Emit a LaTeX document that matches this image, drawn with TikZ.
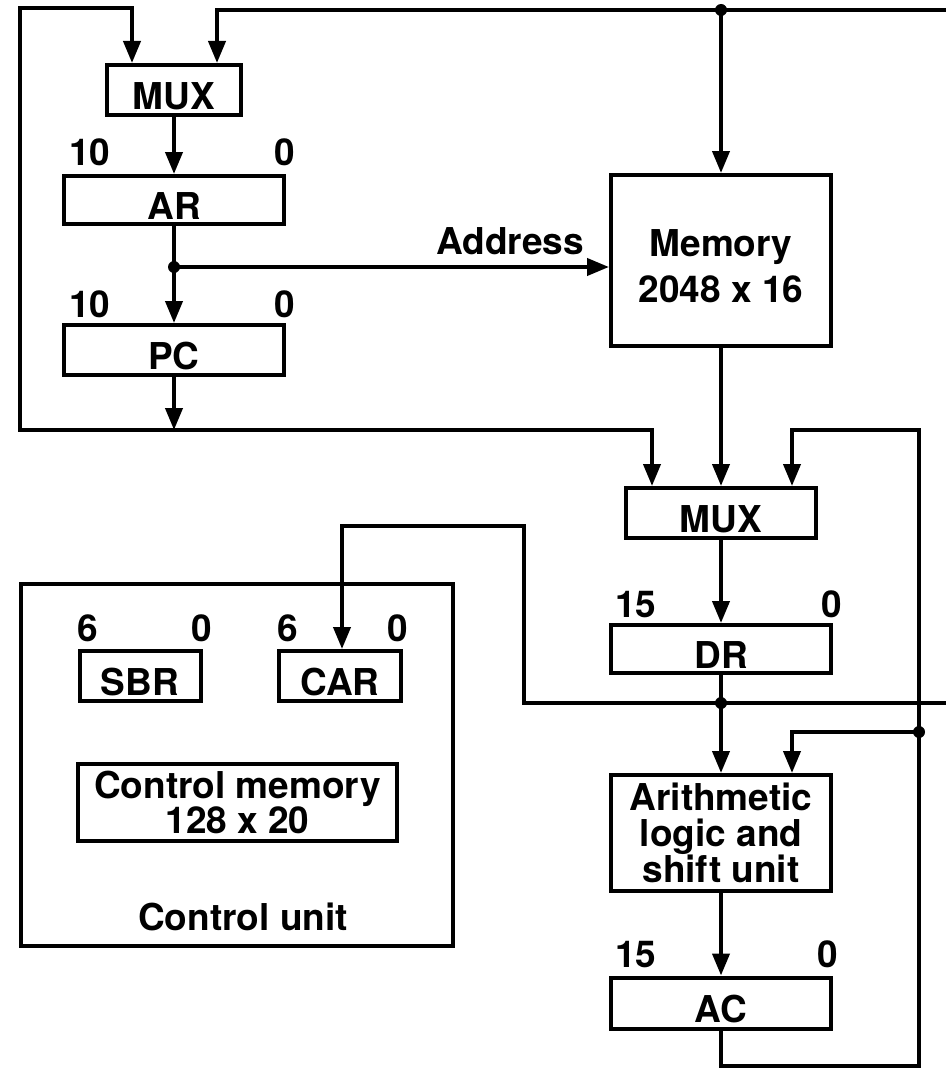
\documentclass[tikz,border=0pt]{standalone}
\usepackage{fontspec}
\setmainfont{TeX Gyre Heros}
\usetikzlibrary{arrows.meta}

\begin{document}
\begin{tikzpicture}[x=1pt,y=-1pt,line width=4pt,line cap=butt,line join=miter,
                    font=\fontsize{37pt}{44pt}\selectfont\bfseries,
                    >={Triangle[length=22pt,width=17pt]},
                    box/.style={draw,inner sep=0pt},
                    reg/.style={box,text height=39pt,text depth=0pt},
                    bit/.style={inner sep=0pt}]
  \path[use as bounding box] (0,0) rectangle (946,1070);   % bbox = 源画布 946×1070 px, 1pt = 1px, y 向下
  % ---- 方框（中心 + 线中心尺寸, px） ----
  \node[reg,minimum width=134pt,minimum height=50pt] (mux1) at (174,90)  {MUX};   % px x[104,242] y[ 63,117]
  \node[reg,minimum width=220pt,minimum height=48pt] (ar)   at (174,200) {AR};    % px x[ 62,286] y[174,226]
  \node[reg,minimum width=220pt,minimum height=50pt] (pc)   at (174,350) {PC};    % px x[ 62,286] y[323,377]
  \node[box,minimum width=220pt,minimum height=171pt] (mem) at (721,260.5) {};    % px x[609,833] y[173,348]
  \node[align=center,inner sep=0pt,yshift=-6pt,
        font=\fontsize{37pt}{46pt}\selectfont\bfseries] (memtxt) at (mem) {Memory\\2048 x 16};
  \node[reg,minimum width=190pt,minimum height=50pt] (mux2) at (721,513) {MUX};   % px x[624,818] y[486,540]
  \node[reg,minimum width=220pt,minimum height=48pt] (dr)   at (721,649) {DR};    % px x[609,833] y[623,675]
  \node[box,minimum width=220pt,minimum height=116pt,align=center,
        font=\fontsize{37pt}{35.5pt}\selectfont\bfseries] (alu) at (721,833) {Arithmetic\\logic and\\shift unit};
  \node[reg,minimum width=220pt,minimum height=51pt] (ac)   at (721,1003) {AC};   % px x[609,833] y[976,1031]
  % 控制单元
  \node[box,minimum width=432pt,minimum height=362pt] (cu) at (237,765) {};       % px x[ 19,455] y[582,948]
  \node[reg,minimum width=121pt,minimum height=50pt] (sbr) at (140,676) {SBR};    % px x[ 77,202] y[649,703]
  \node[reg,minimum width=122pt,minimum height=50pt] (car) at (340,676) {CAR};    % px x[277,403] y[649,703]
  \node[box,minimum width=319pt,minimum height=77pt,align=center,
        font=\fontsize{37pt}{26pt}\selectfont\bfseries] (cm) at (237.5,802.5) {Control memory\\128 x 20};
  \node[bit,anchor=base] (culbl) at (243,930) {Control unit};
  % ---- 位号标签（左 = 字盒左下角，右 = 字盒底边中点） ----
  \node[bit,anchor=south west] (arhi)  at ( 67,168) {10};
  \node[bit,anchor=south]      (arlo)  at (285,168) {0};
  \node[bit,anchor=south west] (pchi)  at ( 67,320) {10};
  \node[bit,anchor=south]      (pclo)  at (285,320) {0};
  \node[bit,anchor=south west] (drhi)  at (613,620) {15};
  \node[bit,anchor=south]      (drlo)  at (832,620) {0};
  \node[bit,anchor=south west] (achi)  at (613,970) {15};
  \node[bit,anchor=south]      (aclo)  at (828,970) {0};
  \node[bit,anchor=south west] (sbrhi) at ( 75,644) {6};
  \node[bit,anchor=south]      (sbrlo) at (202,644) {0};
  \node[bit,anchor=south west] (carhi) at (275,644) {6};
  \node[bit,anchor=south]      (carlo) at (398,644) {0};
  \node[bit,anchor=south east] (addr)  at (586,257) {Address};
  % ---- 折点与连接点 ----
  \coordinate (adot)  at (174,267);   % AR 输出分支点
  \coordinate (mdot)  at (721,10);    % 顶部总线分支点
  \coordinate (ddot)  at (721,703);   % DR 输出分支点
  \coordinate (fbdot) at (919,732);   % AC 回路分支点
  \coordinate (lpTL)  at (20,8);      % 左回路
  \coordinate (lpBL)  at (20,430);
  \coordinate (lpT)   at (132,8);
  \coordinate (m2L)   at (652,430);
  \coordinate (busT)  at (217,10);    % 顶部总线
  \coordinate (busTR) at (946,10);
  \coordinate (cbT)   at (342,526);   % CAR 输入总线
  \coordinate (cbTR)  at (524,526);
  \coordinate (cbB)   at (524,703);
  \coordinate (cbR)   at (946,703);
  \coordinate (fbBR)  at (919,1066);  % AC 回路
  \coordinate (fbTR)  at (919,430);
  \coordinate (m2R)   at (792,430);
  % ---- 连线 ----
  \draw[->] (mux1) -- (ar);
  \draw (ar.south) -- (adot);
  \draw[->] (adot) -- (pc.north);
  \draw[->] (adot) -- (adot -| mem.west);
  \draw[->] (pc.south) -- (pc.south |- lpBL);
  \draw[<->] (lpT |- mux1.north) -- (lpT) -- (lpTL) -- (lpBL) -- (m2L) -- (m2L |- mux2.north);
  \draw[<-] (busT |- mux1.north) -- (busT) -- (busTR);
  \draw[->] (mdot) -- (mem.north);
  \draw[->] (mem) -- (mux2);
  \draw[->] (mux2) -- (dr);
  \draw (dr.south) -- (ddot);
  \draw[->] (ddot) -- (alu.north);
  \draw[->] (alu) -- (ac);
  \draw[<-] (cbT |- car.north) -- (cbT) -- (cbTR) -- (cbB) -- (cbR);
  \draw[->] (ac.south) -- (ac.south |- fbBR) -- (fbBR) -- (fbTR) -- (m2R) -- (m2R |- mux2.north);
  \draw[->] (fbdot) -- (fbdot -| m2R) -- (m2R |- alu.north);
  \foreach \p in {adot,mdot,ddot,fbdot} \fill (\p) circle[radius=6pt];
\end{tikzpicture}
\end{document}
